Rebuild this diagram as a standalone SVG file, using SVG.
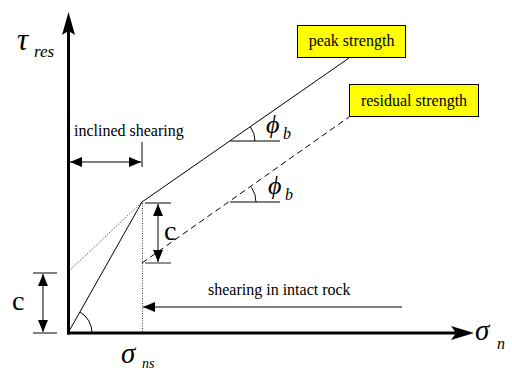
<svg xmlns="http://www.w3.org/2000/svg" width="512" height="372" viewBox="0 0 512 372">
<style>
text{font-family:"Liberation Serif","Times New Roman",serif;fill:#000}
.lbl{font-size:16px}
.it{font-style:italic}
.thin{stroke:#000;stroke-width:1;fill:none}
.gray{stroke:#555;stroke-width:1.3;fill:none}
.box{fill:#ffff00;stroke:#000;stroke-width:1}
</style>
<defs>
<marker id="ah" viewBox="0 0 12 10" refX="12" refY="5" markerWidth="12" markerHeight="10" markerUnits="userSpaceOnUse" orient="auto-start-reverse">
<path d="M0,0 L12,5 L0,10 Z" fill="#000"/>
</marker>
</defs>
<g id="axes">
<line x1="68.5" y1="334.5" x2="68.5" y2="28" stroke="#000" stroke-width="3"/>
<path d="M68.5,12 L75,35 L68.5,31 L62,35 Z" fill="#000"/>
<line x1="67" y1="333" x2="458" y2="333" stroke="#000" stroke-width="3"/>
<path d="M474,333 L451,326 L456,333 L451,340 Z" fill="#000"/>
<text x="17" y="50" class="it" font-size="31">τ</text>
<text x="34" y="57" class="it" font-size="17">res</text>
<text x="475" y="340" class="it" font-size="29">σ</text>
<text x="497" y="349" class="it" font-size="16">n</text>
<text x="121" y="363" class="it" font-size="29">σ</text>
<text x="142" y="368" class="it" font-size="14">ns</text>
</g>
<g id="connectors">
<line class="thin" x1="68" y1="333" x2="142" y2="202"/>
<line class="thin" x1="142" y1="202" x2="349" y2="58"/>
<line class="thin" x1="142" y1="263" x2="349" y2="117" stroke-dasharray="6,4"/>
<line x1="69" y1="271" x2="142" y2="202" stroke="#000" stroke-width="0.8" stroke-dasharray="1,1.5"/>
<line x1="142.5" y1="203" x2="142.5" y2="333" stroke="#000" stroke-width="0.8" stroke-dasharray="1,1.5"/>
<path class="thin" d="M92,333 A24,24 0 0 0 80,312"/>
<line class="thin" x1="230" y1="141" x2="280" y2="141"/>
<path class="thin" d="M255,141 A25,25 0 0 0 250.5,127"/>
<line class="thin" x1="230" y1="202" x2="280" y2="202"/>
<path class="thin" d="M256,202 A26,26 0 0 0 251.5,187.5"/>
<line class="thin" x1="145" y1="203" x2="171" y2="203"/>
<line class="gray" x1="145" y1="263" x2="171" y2="263"/>
<line class="thin" x1="158" y1="204" x2="158" y2="262" marker-start="url(#ah)" marker-end="url(#ah)"/>
<line class="thin" x1="33" y1="273" x2="57" y2="273"/>
<line class="thin" x1="33" y1="333" x2="57" y2="333"/>
<line class="thin" x1="43" y1="274" x2="43" y2="332" marker-start="url(#ah)" marker-end="url(#ah)"/>
<line class="thin" x1="70" y1="162" x2="141" y2="162" marker-start="url(#ah)" marker-end="url(#ah)"/>
<line class="thin" x1="142" y1="142" x2="142" y2="167"/>
<line class="gray" x1="402" y1="307" x2="143" y2="307" marker-end="url(#ah)"/>
</g>
<g id="peak">
<rect class="box" x="297.5" y="25.5" width="108" height="32"/>
<text x="351.5" y="46" class="lbl" text-anchor="middle">peak strength</text>
</g>
<g id="residual">
<rect class="box" x="349.5" y="84.5" width="129" height="32"/>
<text x="414" y="106" class="lbl" text-anchor="middle">residual strength</text>
</g>
<g id="labels">
<text x="74" y="136" class="lbl">inclined shearing</text>
<text x="208" y="295" class="lbl">shearing in intact rock</text>
<text x="164" y="240" font-size="28">c</text>
<text x="12" y="310" font-size="28">c</text>
<text x="266" y="133" class="it" font-size="26">ϕ</text>
<text x="283" y="139" class="it" font-size="16">b</text>
<text x="268" y="194" class="it" font-size="26">ϕ</text>
<text x="285" y="200" class="it" font-size="16">b</text>
</g>
</svg>
